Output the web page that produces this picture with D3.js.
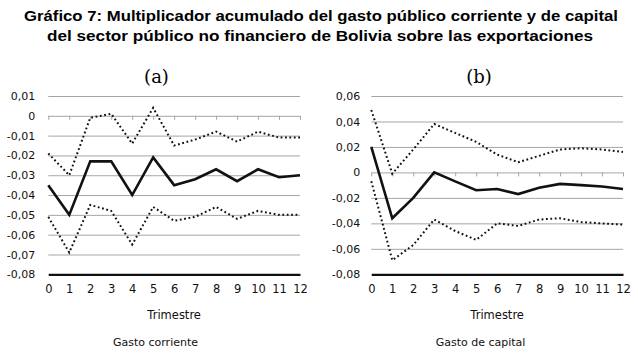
<!DOCTYPE html>
<html>
<head>
<meta charset="utf-8">
<script src="https://cdn.jsdelivr.net/npm/d3@7"></script>
<style>
  body { margin: 0; background: #fff; }
  svg { display: block; }
</style>
</head>
<body>
<script>
// Datos
var trimestres = [0, 1, 2, 3, 4, 5, 6, 7, 8, 9, 10, 11, 12];

// (a) Gasto corriente
var corrienteMedia = [-0.035, -0.050, -0.023, -0.023, -0.040, -0.021, -0.035, -0.032, -0.027, -0.033, -0.027, -0.031, -0.030];
var corrienteSup   = [-0.019, -0.030, -0.001, 0.001, -0.014, 0.004, -0.015, -0.012, -0.008, -0.013, -0.008, -0.011, -0.011];
var corrienteInf   = [-0.051, -0.069, -0.045, -0.048, -0.065, -0.046, -0.053, -0.051, -0.046, -0.052, -0.048, -0.050, -0.050];
var ticksA = [0.01, 0, -0.01, -0.02, -0.03, -0.04, -0.05, -0.06, -0.07, -0.08];

// (b) Gasto de capital
var capitalMedia = [0.020, -0.036, -0.020, 0.000, -0.007, -0.014, -0.013, -0.017, -0.012, -0.009, -0.010, -0.011, -0.013];
var capitalSup   = [0.049, -0.001, 0.018, 0.038, 0.031, 0.024, 0.014, 0.008, 0.013, 0.018, 0.019, 0.018, 0.016];
var capitalInf   = [-0.007, -0.069, -0.057, -0.037, -0.046, -0.053, -0.040, -0.042, -0.037, -0.036, -0.039, -0.040, -0.041];
var ticksB = [0.06, 0.04, 0.02, 0, -0.02, -0.04, -0.06, -0.08];

var titulo = [
  "Gráfico 7: Multiplicador acumulado del gasto público corriente y de capital",
  "del sector público no financiero de Bolivia sobre las exportaciones"
];

var W = 638, H = 355;
var svg = d3.select("body").append("svg").attr("width", W).attr("height", H);

var sans = "'DejaVu Sans', sans-serif";

// Titulo
svg.append("text").attr("x", 321).attr("y", 21)
  .attr("text-anchor", "middle")
  .attr("font-family", "'Liberation Sans', Arial, sans-serif")
  .attr("font-weight", "bold").attr("font-size", 15)
  .attr("textLength", 594).attr("lengthAdjust", "spacingAndGlyphs")
  .text(titulo[0]);
svg.append("text").attr("x", 320).attr("y", 41)
  .attr("text-anchor", "middle")
  .attr("font-family", "'Liberation Sans', Arial, sans-serif")
  .attr("font-weight", "bold").attr("font-size", 15)
  .attr("textLength", 546).attr("lengthAdjust", "spacingAndGlyphs")
  .text(titulo[1]);

function fmt(v) {
  if (Math.abs(v) < 1e-9) return "0";
  return d3.format(".2f")(v).replace(".", ",").replace("−", "-");
}

function drawPanel(cfg) {
  var x = d3.scalePoint().domain(trimestres).range([cfg.x0, cfg.x1]);
  var y = d3.scaleLinear().domain([cfg.min, cfg.max]).range([274.3, 96]);
  var g = svg.append("g");

  // lineas de cuadricula + etiquetas del eje y
  var yAxis = g.append("g")
    .attr("transform", "translate(" + cfg.x0 + ",0)")
    .call(d3.axisLeft(y).tickValues(cfg.ticks).tickFormat(fmt)
      .tickSize(-(cfg.x1 - cfg.x0)).tickPadding(cfg.pad));
  yAxis.select(".domain").remove();
  yAxis.selectAll(".tick line").attr("stroke", "#a6a6a6").attr("stroke-width", 1);
  yAxis.selectAll(".tick text")
    .attr("font-family", sans).attr("font-size", 11).attr("fill", "#111");

  // eje en cero con marcas
  var zero = g.append("g")
    .attr("transform", "translate(0," + y(0) + ")")
    .call(d3.axisBottom(x).tickSize(4).tickFormat(""));
  zero.select(".domain").remove();
  zero.selectAll(".tick line").attr("stroke", "#a6a6a6");

  // linea inferior y etiquetas de trimestre
  var bottom = g.append("g")
    .attr("transform", "translate(0," + y(cfg.min) + ")")
    .call(d3.axisBottom(x).tickSize(0).tickPadding(11).tickSizeOuter(0));
  bottom.select(".domain").attr("stroke", "#111").attr("stroke-width", 2.2);
  bottom.selectAll(".tick text")
    .attr("font-family", sans).attr("font-size", 11.5).attr("fill", "#111");

  var line = d3.line()
    .x(function(d, i) { return x(trimestres[i]); })
    .y(function(d) { return y(d); });

  [cfg.sup, cfg.inf].forEach(function(s) {
    g.append("path").datum(s)
      .attr("d", line)
      .attr("fill", "none")
      .attr("stroke", "#111")
      .attr("stroke-width", 2)
      .attr("stroke-dasharray", "1.8,2.6");
  });
  g.append("path").datum(cfg.media)
    .attr("d", line)
    .attr("fill", "none")
    .attr("stroke", "#111")
    .attr("stroke-width", 2.6)
    .attr("stroke-linejoin", "miter");

  svg.append("text").attr("x", cfg.labelX).attr("y", 83)
    .attr("text-anchor", "middle")
    .attr("font-family", "'DejaVu Serif', serif").attr("font-size", 18)
    .text(cfg.label);

  svg.append("text").attr("x", (cfg.x0 + cfg.x1) / 2).attr("y", 319)
    .attr("text-anchor", "middle")
    .attr("font-family", sans).attr("font-size", 11.5).attr("fill", "#111")
    .text("Trimestre");

  svg.append("text").attr("x", cfg.nameX).attr("y", 346)
    .attr("text-anchor", "middle")
    .attr("font-family", sans).attr("font-size", 11).attr("fill", "#111")
    .text(cfg.name);
}

drawPanel({
  x0: 48.3, x1: 300, min: -0.08, max: 0.01, ticks: ticksA, pad: 13,
  media: corrienteMedia, sup: corrienteSup, inf: corrienteInf,
  label: "(a)", labelX: 156.5, name: "Gasto corriente", nameX: 155.5
});
drawPanel({
  x0: 371.3, x1: 623, min: -0.08, max: 0.06, ticks: ticksB, pad: 11,
  media: capitalMedia, sup: capitalSup, inf: capitalInf,
  label: "(b)", labelX: 479, name: "Gasto de capital", nameX: 480.5
});
</script>
</body>
</html>
